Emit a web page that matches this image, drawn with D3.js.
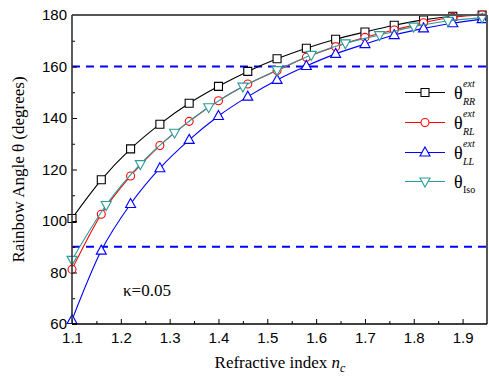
<!DOCTYPE html>
<html>
<head>
<meta charset="utf-8">
<script src="https://cdn.jsdelivr.net/npm/d3@7"></script>
<style>
  body { margin: 0; background: #fff; }
  svg { display: block; }
  .serif { font-family: "Liberation Serif", "Times New Roman", Times, serif; }
  .sans { font-family: "Liberation Sans", Arial, sans-serif; }
</style>
</head>
<body>
<div id="chart"></div>
<script>
// refractive index samples for the markers
var nStep6 = [1.10, 1.16, 1.22, 1.28, 1.34, 1.40, 1.46, 1.52, 1.58, 1.64, 1.70, 1.76, 1.82, 1.88, 1.94];
var nStep7 = [1.10, 1.17, 1.24, 1.31, 1.38, 1.45, 1.52, 1.59, 1.66, 1.73, 1.80, 1.87, 1.94];

var thetaRR = [101, 116, 128, 137.6, 145.7, 152.3, 158.1, 163, 167.1, 170.6, 173.4, 176, 178.1, 179.5, 180];
var thetaRL = [81.2, 102.6, 117.5, 129.3, 138.7, 146.7, 153.2, 158.4, 163.6, 167.7, 171.3, 174.2, 177.0, 179.1, 180];
var thetaLL = [61.5, 88.5, 106.6, 120.5, 131.5, 140.8, 148.3, 154.8, 160.2, 164.9, 168.7, 172.2, 174.8, 176.8, 178.4];
var thetaIso = [84.9, 106.2, 122.1, 134.3, 144.2, 152.2, 158.6, 164.5, 169.0, 172.2, 175.5, 177.7, 179.0];

var xTicks = [1.1, 1.2, 1.3, 1.4, 1.5, 1.6, 1.7, 1.8, 1.9];
var yTicks = [60, 80, 100, 120, 140, 160, 180];
var refLines = [160, 90];

var W = 489, H = 377;
var margin = { top: 15, right: 2, bottom: 53, left: 72 };
var width = W - margin.left - margin.right,
    height = H - margin.top - margin.bottom;

var series = [
  { n: nStep6, v: thetaRR, color: "#000000", shape: "square", label: "RR", sup: "ext" },
  { n: nStep6, v: thetaRL, color: "#ff0000", shape: "circle", label: "RL", sup: "ext" },
  { n: nStep6, v: thetaLL, color: "#0000ff", shape: "up", label: "LL", sup: "ext" },
  { n: nStep7, v: thetaIso, color: "#2e9a9a", shape: "down", label: "Iso", sup: null }
];

var xScale = d3.scaleLinear().domain([1.1, 1.95]).range([0, width]);
var yScale = d3.scaleLinear().domain([60, 180]).range([height, 0]);

var svg = d3.select("#chart").append("svg")
  .attr("width", W).attr("height", H);

var g = svg.append("g")
  .attr("transform", "translate(" + margin.left + "," + margin.top + ")");

var defs = svg.append("defs");
defs.append("clipPath").attr("id", "clip")
  .append("rect").attr("x", -6).attr("y", -6).attr("width", width + 6).attr("height", height + 6);

// dashed reference lines
g.selectAll(".ref").data(refLines).enter().append("line")
  .attr("x1", 0).attr("x2", width)
  .attr("y1", function(d) { return yScale(d); })
  .attr("y2", function(d) { return yScale(d); })
  .attr("stroke", "#0000ff").attr("stroke-width", 1.8)
  .attr("stroke-dasharray", "8,6");

function markerPath(shape) {
  if (shape === "square") return "M-4,-4H4V4H-4Z";
  if (shape === "circle") return d3.symbol().type(d3.symbolCircle).size(50)();
  if (shape === "up") return "M0,-5.5L5,3.5L-5,3.5Z";
  return "M0,5.5L5,-3.5L-5,-3.5Z";
}

var line = d3.line()
  .x(function(d) { return xScale(d[0]); })
  .y(function(d) { return yScale(d[1]); })
  .curve(d3.curveMonotoneX);

var plot = g.append("g").attr("clip-path", "url(#clip)");

series.forEach(function(s) {
  var pts = s.n.map(function(x, i) { return [x, s.v[i]]; });
  plot.append("path").datum(pts)
    .attr("d", line)
    .attr("fill", "none")
    .attr("stroke", s.color)
    .attr("stroke-width", 1.1);
  plot.selectAll(null).data(pts).enter().append("path")
    .attr("d", markerPath(s.shape))
    .attr("transform", function(d) { return "translate(" + xScale(d[0]) + "," + yScale(d[1]) + ")"; })
    .attr("fill", "#fff")
    .attr("stroke", s.color)
    .attr("stroke-width", 1.1);
});

// axes with inward ticks
var xAxis = d3.axisBottom(xScale).tickValues(xTicks).tickSize(-5).tickPadding(8).tickFormat(d3.format(".1f"));
var xMinor = d3.axisBottom(xScale).tickValues(d3.range(1.15, 1.95, 0.1)).tickSize(-3).tickFormat("");
var yAxis = d3.axisLeft(yScale).tickValues(yTicks).tickSize(-5).tickPadding(5);
var yMinor = d3.axisLeft(yScale).tickValues(d3.range(70, 180, 20)).tickSize(-3).tickFormat("");

function styleAxis(sel) {
  sel.select(".domain").remove();
  sel.selectAll("line").attr("stroke", "#000").attr("stroke-width", 1);
  sel.selectAll("text").attr("class", "sans").attr("font-family", null)
    .attr("font-size", 15).attr("fill", "#000");
}

g.append("g").attr("transform", "translate(0," + height + ")").call(xAxis).call(styleAxis);
g.append("g").attr("transform", "translate(0," + height + ")").call(xMinor).call(styleAxis);
g.append("g").call(yAxis).call(styleAxis);
g.append("g").call(yMinor).call(styleAxis);

// frame
g.append("line").attr("x1", 0).attr("x2", width).attr("y1", 0).attr("y2", 0)
  .attr("stroke", "#555").attr("stroke-width", 2);
g.append("line").attr("x1", width).attr("x2", width).attr("y1", 0).attr("y2", height)
  .attr("stroke", "#555").attr("stroke-width", 2);
g.append("line").attr("x1", 0).attr("x2", 0).attr("y1", 0).attr("y2", height)
  .attr("stroke", "#333").attr("stroke-width", 1.6);
g.append("line").attr("x1", 0).attr("x2", width).attr("y1", height).attr("y2", height)
  .attr("stroke", "#000").attr("stroke-width", 1.6);

// annotation
g.append("text").attr("class", "serif").attr("x", 51).attr("y", 281)
  .attr("font-size", 17).text("\u03ba=0.05");

// axis titles
svg.append("text").attr("class", "serif")
  .attr("transform", "translate(24," + (margin.top + height / 2) + ") rotate(-90)")
  .attr("text-anchor", "middle")
  .attr("font-size", 17)
  .text("Rainbow Angle \u03b8 (degrees)");

var xt = svg.append("text").attr("class", "serif")
  .attr("x", 280).attr("y", 368)
  .attr("text-anchor", "middle")
  .attr("font-size", 17);
xt.append("tspan").text("Refractive index ");
xt.append("tspan").attr("font-style", "italic").text("n");
xt.append("tspan").attr("font-style", "italic").attr("font-size", 12).attr("dy", 4).text("c");

// legend
var legendRows = [92.5, 122.5, 152.5, 181.5];
var lg = svg.append("g");
series.forEach(function(s, i) {
  var y = legendRows[i];
  lg.append("line").attr("x1", 405).attr("x2", 445).attr("y1", y).attr("y2", y)
    .attr("stroke", s.color).attr("stroke-width", 1.1);
  lg.append("path").attr("d", markerPath(s.shape))
    .attr("transform", "translate(425," + y + ")")
    .attr("fill", "#fff").attr("stroke", s.color).attr("stroke-width", 1.1);
  lg.append("text").attr("class", "serif").attr("x", 454).attr("y", y + 6)
    .attr("font-size", 18).text("\u03b8");
  if (s.sup) {
    lg.append("text").attr("class", "serif").attr("x", 463).attr("y", y - 6)
      .attr("font-style", "italic").attr("font-size", 10).text(s.sup);
    lg.append("text").attr("class", "serif").attr("x", 463).attr("y", y + 12)
      .attr("font-style", "italic").attr("font-size", 10).text(s.label);
  } else {
    lg.append("text").attr("class", "serif").attr("x", 463).attr("y", y + 11)
      .attr("font-size", 10).text(s.label);
  }
});
</script>
</body>
</html>
